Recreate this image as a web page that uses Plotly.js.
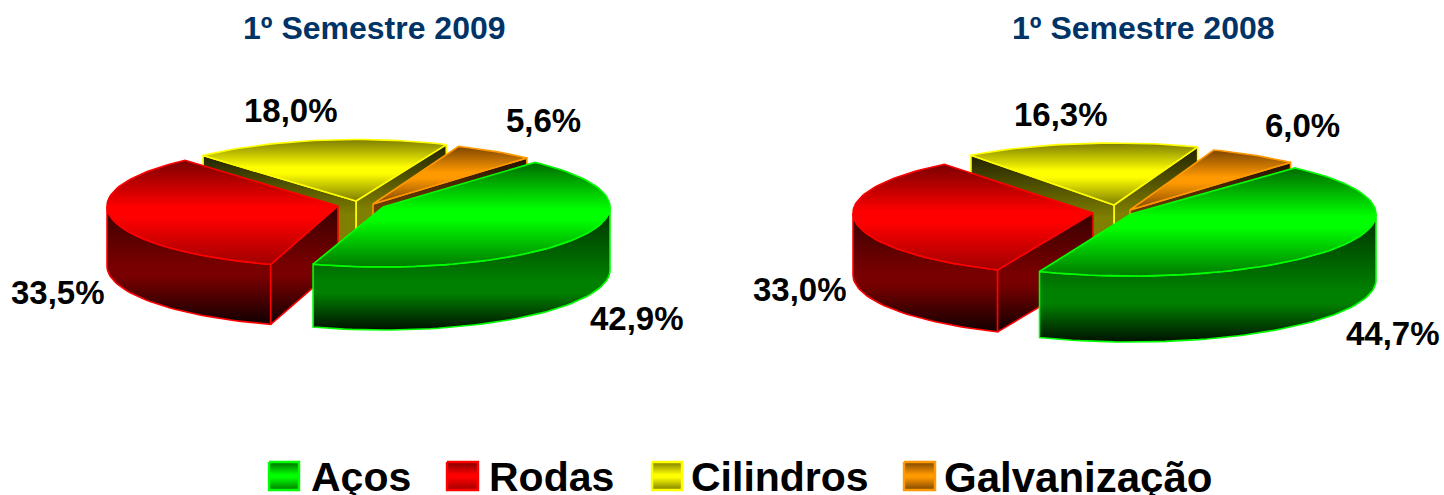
<!DOCTYPE html>
<html>
<head>
<meta charset="utf-8">
<script src="https://cdn.plot.ly/plotly-3.0.1.min.js"></script>
<style>html,body{margin:0;padding:0;background:#fff;overflow:hidden}#chart{width:1444px;height:495px}</style>
</head>
<body>
<div id="chart"></div>
<script>
// ---- data ----
const categories = ['Aços', 'Rodas', 'Cilindros', 'Galvanização'];
const values2009 = [42.9, 33.5, 18.0, 5.6];
const values2008 = [44.7, 33.0, 16.3, 6.0];
const labels2009 = ['42,9%', '33,5%', '18,0%', '5,6%'];
const labels2008 = ['44,7%', '33,0%', '16,3%', '6,0%'];
const titles = ['1º Semestre 2009', '1º Semestre 2008'];

// ---- styles / layout (pixel space of the canvas) ----
const START_ANGLE = 48;
const colors = {
  line: ['#00ff00', '#ff0000', '#ffff00', '#ff9900'],
  top: [
    ['#006a00', '#00ff00', '#007a00'],
    ['#7a0000', '#ff0000', '#a00000'],
    ['#7d7d00', '#ffff00', '#7d7d00'],
    ['#7d4500', '#ff9900', '#7d4500']
  ],
  side: [
    ['#003000', '#008000', '#001000'],
    ['#380000', '#780000', '#100000'],
    ['#222200', '#808000', '#808000'],
    ['#221100', '#804800', '#804800']
  ]
};
const pies = [
  { values: values2009, labels: labels2009, depths: [63, 60, 62, 62],
    centers: [[383, 207], [338, 206], [356, 201], [373, 204]],
    radii: [[227, 60], [231, 61], [227, 61.5], [230, 62]],
    // small drawing adjustments of the slice ends, degrees [start, end]
    adjust: [[0, -1.5], [-0.5, -1.5], [-0.6, -1.6], [0, 0]],
    labelPos: [[637, 318], [58, 292], [291, 110], [543, 120]], titlePos: [374, 28] },
  { values: values2008, labels: labels2008, depths: [66, 62, 65, 65],
    centers: [[1131, 214], [1093, 213], [1114, 205], [1130, 210]],
    radii: [[245, 62], [240, 62], [240, 62], [240, 64]],
    adjust: [[0, 1], [-0.5, 0], [-1.7, 0], [0, 0]],
    labelPos: [[1393, 333], [800, 289], [1061, 114], [1302, 125]], titlePos: [1143, 28] }
];
const legendBoxes = [[269, 299], [447, 478], [652, 682], [904, 935]];
const legendTextX = [311, 489, 691, 944];
const legendFont = [41, 41, 41, 42];
const legendY = [462, 490];

// ---- helpers ----
function grad(stops, y0, y1, mid) {
  return { type: 'vertical', start: y0, stop: y1,
    colorscale: [[0, stops[0]], [mid, stops[1]], [Math.min(1, mid + 0.1), stops[1]], [1, stops[2]]] };
}
function poly(xs, ys, lineColor, stops, mid) {
  return { x: xs.concat(xs[0]), y: ys.concat(ys[0]), mode: 'lines', type: 'scatter', fill: 'toself',
    line: { color: lineColor, width: 1.6 }, hoverinfo: 'skip', showlegend: false,
    fillcolor: stops[1],
    fillgradient: grad(stops, Math.min(...ys), Math.max(...ys), mid) };
}
function pt(c, r, deg) {
  const t = deg * Math.PI / 180;
  return [c[0] + r[0] * Math.cos(t), c[1] - r[1] * Math.sin(t)];
}
function arc(c, r, from, to) {
  const n = Math.max(2, Math.ceil(Math.abs(to - from) / 2));
  const out = [];
  for (let i = 0; i <= n; i++) out.push(pt(c, r, from + (to - from) * i / n));
  return out;
}

const traces = [];
function addPie(p) {
  // sweep clockwise from START_ANGLE
  let a = START_ANGLE;
  const ang = p.values.map((v, i) => {
    const s = a; a -= v * 3.6;
    return [s + p.adjust[i][0], a + p.adjust[i][1]];
  });
  const add = (pts, i, stops, mid) => traces.push(poly(pts.map(q => q[0]), pts.map(q => q[1]), colors.line[i], stops, mid));

  // back slices first: Cilindros, Galvanização, then Rodas, Aços
  [2, 3, 1, 0].forEach(i => {
    const c = p.centers[i], r = p.radii[i], [s, e] = ang[i], d = p.depths[i];
    const extrude = top => top.concat(top.slice().reverse().map(q => [q[0], q[1] + d]));
    const rim = arc(c, r, s, e);
    const startP = pt(c, r, s), endP = pt(c, r, e);
    if (i === 2) add(extrude([endP, c]), i, colors.side[i], 0.55);   // Cilindros right cut face
    if (i === 2 || i === 3) add(extrude([c, i === 2 ? startP : endP]), i, colors.side[i], 0.55);
    if (i === 1) {                                                   // Rodas rim and cut face
      add(extrude(arc(c, r, -180, s)), i, colors.side[i], 0.5);
      add(extrude([c, startP]), i, colors.side[i], 0.5);
    }
    if (i === 0) add(extrude(arc(c, r, 0, e)), i, colors.side[i], 0.6);  // Aços rim
    add([c].concat(rim), i, colors.top[i], 0.45);
  });
}
pies.forEach(addPie);

// legend swatches
const annotations = [];
const FONT = '"Liberation Sans", Arial, sans-serif';
categories.forEach((name, i) => {
  const [x0, x1] = legendBoxes[i], [y0, y1] = legendY;
  const t = poly([x0, x1, x1, x0], [y0, y0, y1, y1], colors.line[i], colors.top[i], 0.45);
  t.line.width = 2.4;
  traces.push(t);
  annotations.push({ x: legendTextX[i], y: 477, text: '<b>' + name + '</b>', xref: 'x', yref: 'y', xanchor: 'left', yanchor: 'middle',
    showarrow: false, xshift: -2, font: { family: FONT, size: legendFont[i], color: '#000' } });
});
pies.forEach((p, k) => {
  annotations.push({ x: p.titlePos[0], y: p.titlePos[1], text: '<b>' + titles[k] + '</b>', xref: 'x', yref: 'y', showarrow: false,
    font: { family: FONT, size: 32, color: '#003366' } });
  p.labels.forEach((l, i) => annotations.push({ x: p.labelPos[i][0], y: p.labelPos[i][1], text: '<b>' + l + '</b>', xref: 'x', yref: 'y', showarrow: false,
    font: { family: FONT, size: 33, color: '#000' } }));
});

Plotly.newPlot('chart', traces, {
  width: 1444, height: 495, margin: { l: 0, r: 0, t: 0, b: 0 },
  paper_bgcolor: '#fff', plot_bgcolor: '#fff', showlegend: false,
  xaxis: { range: [0, 1444], visible: false, fixedrange: true },
  yaxis: { range: [495, 0], visible: false, fixedrange: true },
  annotations
}, { displayModeBar: false, staticPlot: true });
</script>
</body>
</html>
